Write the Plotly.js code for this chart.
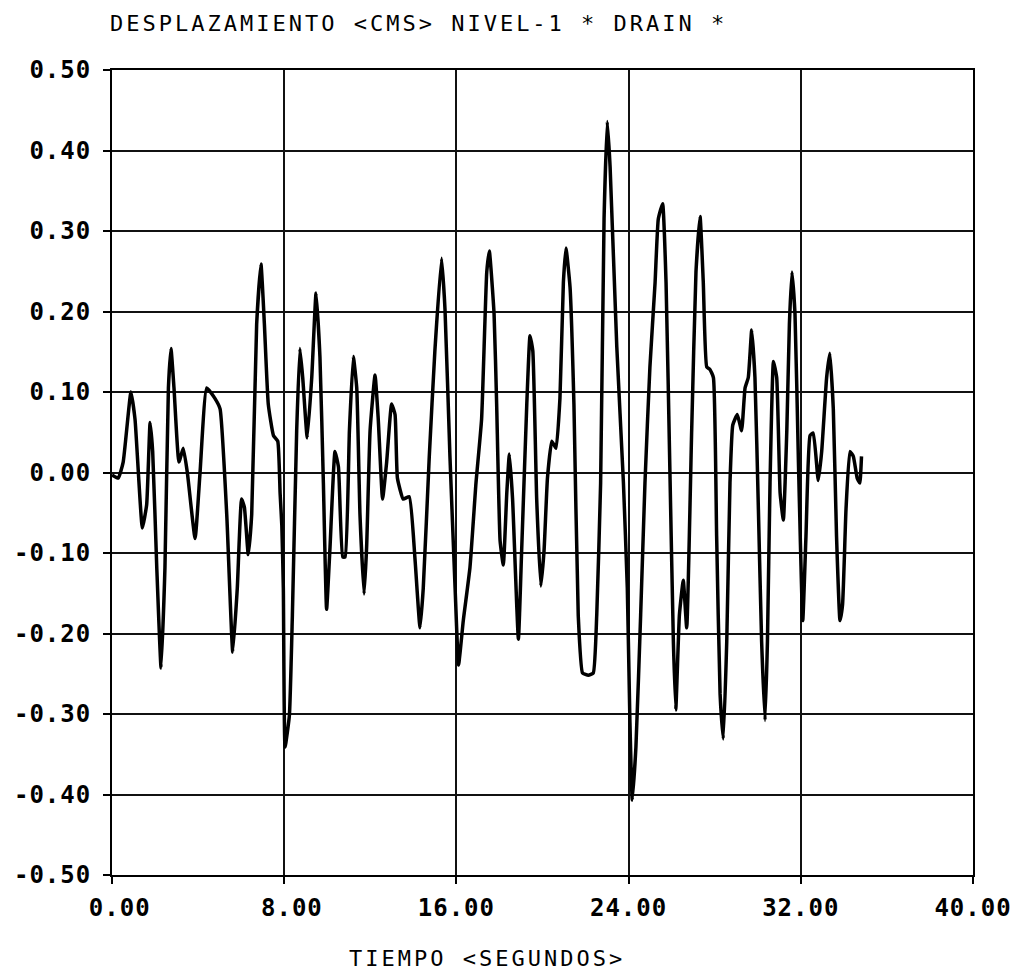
<!DOCTYPE html>
<html>
<head>
<meta charset="utf-8">
<script src="https://cdn.plot.ly/plotly-3.0.1.min.js"></script>
<style>
  html, body { margin: 0; padding: 0; background: #fff; }
  #chart { width: 1017px; height: 977px; }
  .xtick text, .ytick text { letter-spacing: 1px; }
  .gtitle, .annotation-text { letter-spacing: 3px; }
</style>
</head>
<body>
<div id="chart"></div>
<script>
// Time (seconds) and displacement (cm)
const time = [
  0.00, 0.29, 0.52, 0.88, 1.07, 1.41, 1.61, 1.77, 1.89, 2.08, 2.28, 2.46, 2.62, 2.74, 2.88,
  3.11, 3.31, 3.50, 3.86, 4.09, 4.40, 4.78, 5.02, 5.33, 5.61, 5.82, 6.02, 6.15, 6.33, 6.49,
  6.72, 6.92, 7.08, 7.26, 7.50, 7.70, 7.81, 7.89, 7.96, 8.04, 8.24, 8.38, 8.58, 8.73, 8.86,
  9.07, 9.28, 9.48, 9.66, 9.82, 9.97, 10.13, 10.36, 10.52, 10.72, 10.83, 11.03, 11.21, 11.37,
  11.52, 11.71, 11.83, 11.99, 12.22, 12.37, 12.57, 12.76, 12.99, 13.15, 13.26, 13.53, 13.81,
  14.07, 14.31, 14.46, 14.74, 15.00, 15.31, 15.47, 15.70, 15.94, 16.10, 16.32, 16.63, 16.91,
  17.17, 17.41, 17.53, 17.75, 17.87, 18.03, 18.18, 18.34, 18.46, 18.61, 18.88, 19.03, 19.27,
  19.42, 19.55, 19.73, 19.92, 20.07, 20.23, 20.43, 20.63, 20.81, 20.97, 21.09, 21.28, 21.46,
  21.66, 21.86, 22.13, 22.36, 22.52, 22.70, 22.86, 23.01, 23.14, 23.45, 23.76, 23.94, 24.06,
  24.17, 24.34, 24.56, 24.76, 24.99, 25.23, 25.38, 25.58, 25.74, 25.92, 26.08, 26.19, 26.36,
  26.54, 26.70, 26.93, 27.13, 27.32, 27.47, 27.63, 27.78, 27.94, 28.09, 28.25, 28.40, 28.56,
  28.71, 28.84, 29.05, 29.25, 29.41, 29.56, 29.72, 29.87, 30.03, 30.18, 30.34, 30.45, 30.57,
  30.73, 30.88, 31.04, 31.19, 31.35, 31.47, 31.59, 31.73, 31.89, 32.09, 32.24, 32.43, 32.58,
  32.81, 32.97, 33.20, 33.35, 33.51, 33.66, 33.82, 33.94, 34.10, 34.28, 34.44, 34.62, 34.74,
  34.82
];
const displacement = [
  -0.003, -0.007, 0.013, 0.100, 0.066, -0.069, -0.040, 0.062, 0.026, -0.118, -0.243, -0.118, 0.105, 0.154, 0.105,
  0.013, 0.030, 0.000, -0.082, 0.000, 0.105, 0.092, 0.079, -0.052, -0.223, -0.144, -0.033, -0.043, -0.102, -0.052,
  0.184, 0.259, 0.184, 0.085, 0.046, 0.039, -0.026, -0.066, -0.144, -0.341, -0.302, -0.177, 0.052, 0.154, 0.118,
  0.043, 0.118, 0.223, 0.144, -0.013, -0.170, -0.092, 0.026, 0.007, -0.105, -0.105, 0.052, 0.144, 0.105,
  -0.052, -0.151, -0.092, 0.052, 0.121, 0.066, -0.033, 0.013, 0.085, 0.072, -0.007, -0.033, -0.030,
  -0.105, -0.193, -0.144, 0.020, 0.151, 0.266, 0.203, 0.020, -0.144, -0.239, -0.184, -0.118, -0.013,
  0.066, 0.249, 0.275, 0.197, 0.085, -0.085, -0.115, -0.026, 0.023, -0.033, -0.207, -0.098, 0.085,
  0.170, 0.151, -0.033, -0.141, -0.098, -0.007, 0.039, 0.030, 0.092, 0.236, 0.279, 0.230, 0.085,
  -0.177, -0.249, -0.252, -0.249, -0.177, -0.013, 0.315, 0.436, 0.380, 0.157, -0.013, -0.144, -0.308,
  -0.407, -0.341, -0.177, -0.013, 0.131, 0.236, 0.315, 0.334, 0.236, 0.000, -0.210, -0.295, -0.177,
  -0.134, -0.193, 0.052, 0.249, 0.318, 0.236, 0.131, 0.128, 0.118, -0.079, -0.275, -0.331, -0.210,
  -0.013, 0.059, 0.072, 0.052, 0.105, 0.118, 0.177, 0.118, -0.046, -0.210, -0.308, -0.210, -0.013,
  0.138, 0.118, -0.026, -0.059, 0.052, 0.184, 0.249, 0.197, 0.013, -0.184, -0.079, 0.046, 0.049,
  -0.010, 0.026, 0.118, 0.148, 0.079, -0.079, -0.184, -0.164, -0.046, 0.026, 0.020, -0.007, -0.013,
  0.020
];
const xTickVals = [0, 8, 16, 24, 32, 40];
const xTickText = ['\u00a00.00', '\u00a08.00', '16.00', '24.00', '32.00', '40.00'];
const yTickVals = [-0.5, -0.4, -0.3, -0.2, -0.1, 0, 0.1, 0.2, 0.3, 0.4, 0.5];
const yTickText = ['-0.50', '-0.40', '-0.30', '-0.20', '-0.10', '0.00', '0.10', '0.20', '0.30', '0.40', '0.50'];
const chartTitle = 'DESPLAZAMIENTO &lt;CMS&gt; NIVEL-1 * DRAIN *';
const xTitle = 'TIEMPO &lt;SEGUNDOS&gt;';

const mono = 'DejaVu Sans Mono, Liberation Mono, monospace';

const trace = {
  x: time,
  y: displacement,
  type: 'scatter',
  mode: 'lines',
  line: { color: '#000', width: 3.5, shape: 'spline', smoothing: 0.4 },
  hoverinfo: 'x+y',
  showlegend: false
};

const W = 1017, H = 977;
const L = 112, R = 973, T = 70, B = 875;

const layout = {
  width: W,
  height: H,
  margin: { l: L, r: W - R, t: T, b: H - B, pad: 0 },
  paper_bgcolor: '#fff',
  plot_bgcolor: '#fff',
  showlegend: false,
  title: {
    text: chartTitle,
    font: { family: mono, size: 22, color: '#000' },
    xref: 'container', yref: 'container',
    x: 110 / W, xanchor: 'left',
    y: 1 - 23 / H, yanchor: 'middle'
  },
  xaxis: {
    range: [0, 40],
    tickmode: 'array',
    tickvals: xTickVals,
    ticktext: xTickText,
    ticks: 'outside',
    ticklen: 7,
    tickwidth: 2,
    tickcolor: '#000',
    ticklabelstandoff: 3,
    tickfont: { family: mono, size: 24, color: '#000', weight: 'bold' },
    showgrid: true,
    gridcolor: '#111',
    gridwidth: 2,
    showline: true,
    linecolor: '#000',
    linewidth: 2,
    mirror: true,
    zeroline: false,
    fixedrange: true
  },
  yaxis: {
    range: [-0.5, 0.5],
    tickmode: 'array',
    tickvals: yTickVals,
    ticktext: yTickText,
    ticks: 'outside',
    ticklen: 7,
    tickwidth: 2,
    tickcolor: '#000',
    ticklabelstandoff: 7,
    tickfont: { family: mono, size: 24, color: '#000', weight: 'bold' },
    showgrid: true,
    gridcolor: '#111',
    gridwidth: 2,
    showline: true,
    linecolor: '#000',
    linewidth: 2,
    mirror: true,
    zeroline: false,
    fixedrange: true
  },
  annotations: [{
    text: xTitle,
    xref: 'paper', yref: 'paper',
    x: (487 - L) / (R - L),
    y: -(958 - B) / (B - T),
    xanchor: 'center', yanchor: 'middle',
    showarrow: false,
    font: { family: mono, size: 22, color: '#000' }
  }]
};

Plotly.newPlot('chart', [trace], layout, { displayModeBar: false, staticPlot: true });
</script>
</body>
</html>
